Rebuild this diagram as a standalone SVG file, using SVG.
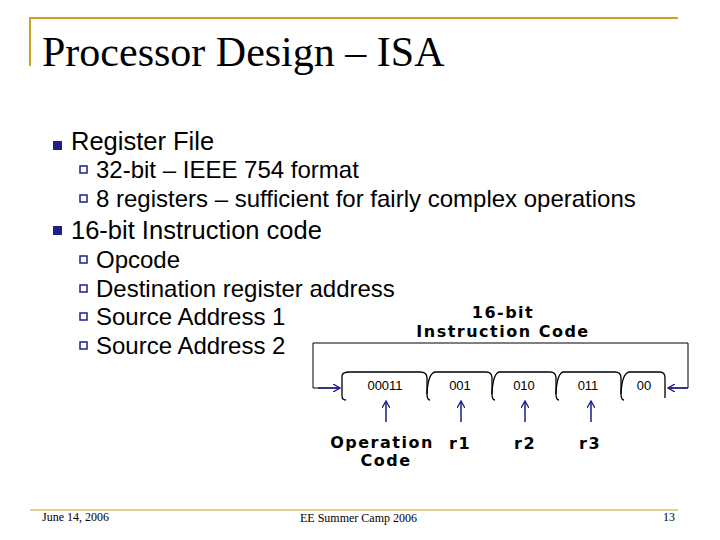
<svg xmlns="http://www.w3.org/2000/svg" width="720" height="540" viewBox="0 0 720 540">
<style>
.t{font-family:"Liberation Sans",Arial,sans-serif;fill:#000}
.b{font-family:"DejaVu Sans","Liberation Sans",sans-serif;font-weight:bold;fill:#000}
.f{fill:none;stroke:#000;stroke-width:1.3}
.a{stroke:#1a1a8c;stroke-width:1.5;fill:none}
</style>
<defs><marker id="ah" markerWidth="8" markerHeight="8" refX="7" refY="4" orient="auto" markerUnits="userSpaceOnUse"><path d="M0,0 L7,4 L0,8" fill="none" stroke="#1a1a8c" stroke-width="1.3"/></marker></defs>
<rect width="720" height="540" fill="#fff"/>
<path d="M30,66 V18 H678" fill="none" stroke="#c9a227" stroke-width="2"/>
<path d="M30,510 H678" fill="none" stroke="#c9a227" stroke-width="1"/>
<text x="42" y="66" font-family="Liberation Serif,serif" font-size="42" fill="#000">Processor Design – ISA</text>
<g fill="#1f1f8c"><rect x="53" y="141" width="9" height="9"/><rect x="53" y="226" width="9" height="9"/></g>
<g fill="none" stroke="#1f1f8c" stroke-width="1.5"><rect x="80" y="166" width="7" height="7"/><rect x="80" y="195" width="7" height="7"/><rect x="80" y="256" width="7" height="7"/><rect x="80" y="285" width="7" height="7"/><rect x="80" y="313" width="7" height="7"/><rect x="80" y="342" width="7" height="7"/></g>
<text class="t" x="71" y="150" font-size="25.5">Register File</text>
<text class="t" x="96" y="178" font-size="24">32-bit – IEEE 754 format</text>
<text class="t" x="96" y="207" font-size="24">8 registers – sufficient for fairly complex operations</text>
<text class="t" x="71" y="239" font-size="25.5">16-bit Instruction code</text>
<text class="t" x="96" y="268" font-size="24">Opcode</text>
<text class="t" x="96" y="297" font-size="24">Destination register address</text>
<text class="t" x="96" y="325" font-size="24">Source Address 1</text>
<text class="t" x="96" y="354" font-size="24">Source Address 2</text>
<g id="title"><text class="b" x="503" y="318" font-size="16" text-anchor="middle" letter-spacing="1.5">16-bit</text><text class="b" x="503" y="337" font-size="16" text-anchor="middle" letter-spacing="1.5">Instruction Code</text></g>
<g id="fields">
<path class="f" d="M346,400 Q342,400 342,396 V376 Q342,372 350,372 H420 Q427,372 427,378 V394 Q427,400 430,400"/>
<path class="f" d="M427,394 Q428,372 436,372 H486 Q492,372 492,378 V394 Q492,400 495,400"/>
<path class="f" d="M492,394 Q493,372 500,372 H550 Q556,372 556,378 V394 Q556,400 559,400"/>
<path class="f" d="M556,394 Q557,372 564,372 H615 Q621,372 621,378 V394 Q621,400 624,400"/>
<path class="f" d="M621,394 Q622,372 630,372 H660 Q665,372 665,378 V398"/>
<g class="t" font-size="13" text-anchor="middle"><text x="385" y="390">00011</text><text x="460" y="390">001</text><text x="524" y="390">010</text><text x="588" y="390">011</text><text x="644" y="390">00</text></g>
</g>
<g id="connectors">
<path d="M340,388 H313 V343 H688 V388 H668" fill="none" stroke="#000" stroke-width="1"/>
<path class="a" d="M318,388 H340" marker-end="url(#ah)"/>
<path class="a" d="M688,388 H668" marker-end="url(#ah)"/>
<path class="a" d="M386,422 V401" marker-end="url(#ah)"/>
<path class="a" d="M461,422 V401" marker-end="url(#ah)"/>
<path class="a" d="M525,422 V401" marker-end="url(#ah)"/>
<path class="a" d="M591,422 V401" marker-end="url(#ah)"/>
</g>
<g id="labels" font-size="16" letter-spacing="1.5">
<text class="b" x="382" y="448" text-anchor="middle">Operation</text>
<text class="b" x="386" y="466" text-anchor="middle">Code</text>
<text class="b" x="460" y="449" text-anchor="middle">r1</text>
<text class="b" x="525" y="449" text-anchor="middle">r2</text>
<text class="b" x="590" y="449" text-anchor="middle">r3</text>
</g>
<g font-family="Liberation Serif,serif" font-size="12" fill="#000">
<text x="42" y="521">June 14, 2006</text>
<text x="300" y="522">EE Summer Camp 2006</text>
<text x="663" y="521">13</text>
</g>
</svg>
